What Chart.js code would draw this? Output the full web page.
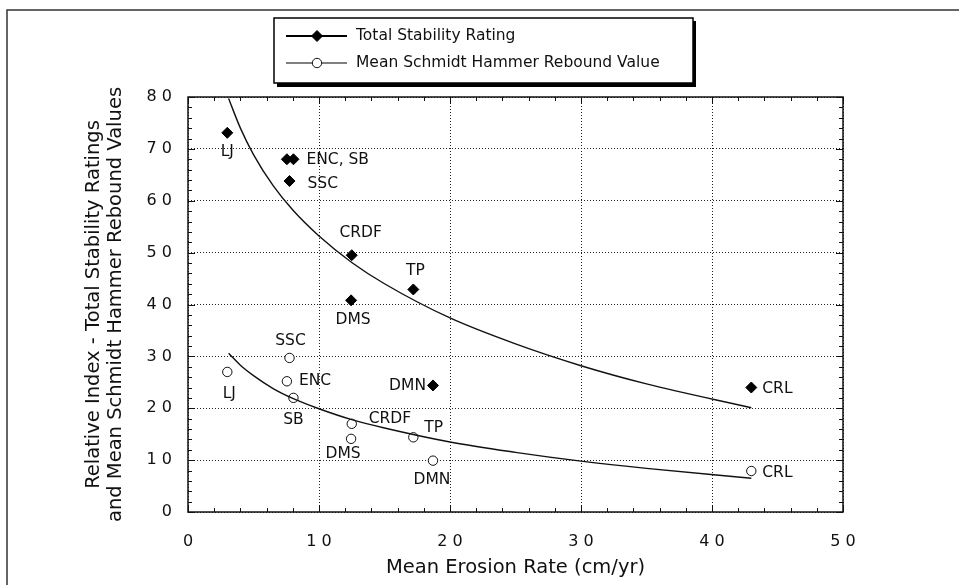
<!DOCTYPE html>
<html>
<head>
<meta charset="utf-8">
<script src="https://cdn.jsdelivr.net/npm/chart.js@4"></script>
<style>
  body { margin: 0; background: #fff; }
  canvas { display: block; }
</style>
</head>
<body>
<canvas id="chart" width="959" height="585"></canvas>
<script>
// ---- data ----
const sites = ["LJ", "ENC", "SB", "SSC", "CRDF", "DMS", "TP", "DMN", "CRL"];
const erosionRate = [3.0, 7.55, 8.05, 7.75, 12.5, 12.45, 17.2, 18.7, 43.0];
const stabilityRating = [73.1, 68.0, 68.0, 63.8, 49.5, 40.8, 42.9, 24.4, 24.0];
const reboundValue = [27.0, 25.2, 22.0, 29.7, 17.0, 14.1, 14.4, 9.9, 7.9];

// points
const curveX = [3.1, 4, 5, 6.5, 8, 10, 12.5, 15, 20, 25, 30, 35, 43];
const stabilityCurve = [79.7, 74.0, 68.9, 62.9, 58.2, 53.2, 48.1, 44.0, 37.4, 32.4, 28.2, 24.7, 20.1];
const reboundCurve = [30.6, 28.3, 26.3, 23.8, 21.9, 19.9, 17.8, 16.2, 13.5, 11.5, 9.8, 8.4, 6.5];

const xTicks = [0, 10, 20, 30, 40, 50];
const yTicks = [0, 10, 20, 30, 40, 50, 60, 70, 80];

// label text per point (ENC and SB share one label on the diamonds)
const stabilityLabels = ["LJ", "", "ENC, SB", "SSC", "CRDF", "DMS", "TP", "DMN", "CRL"];
const reboundLabels = sites;

// label placement: [align, dx, dy] relative to the point
const stabilityLabelPos = [
  ["center", 0, 19], ["left", 0, 0], ["left", 13, 1], ["left", 18, 3], ["center", 9, -22],
  ["center", 2, 20], ["center", 2, -18], ["right", -7, 1], ["left", 11, 1]
];
const reboundLabelPos = [
  ["center", 2, 22], ["left", 12, 0], ["center", 0, 22], ["center", 1, -17], ["left", 17, -5],
  ["center", -8, 15], ["left", 11, -9], ["center", -1, 19], ["left", 11, 2]
];

const FONT = "'DejaVu Sans', sans-serif";
const INK = "#111";

const spaced = v => String(v).split("").join(" ");

// frame, inward ticks, page border
const framePlugin = {
  id: "frame",
  beforeDraw(chart) {
    const ctx = chart.ctx;
    ctx.save();
    ctx.fillStyle = "#fff";
    ctx.fillRect(0, 0, chart.width, chart.height);
    ctx.strokeStyle = "#333";
    ctx.lineWidth = 1.5;
    ctx.beginPath();
    ctx.moveTo(7, chart.height);
    ctx.lineTo(7, 10);
    ctx.lineTo(chart.width, 10);
    ctx.stroke();
    ctx.restore();
  },
  afterDatasetsDraw(chart) {
    const {ctx, chartArea: a, scales: {x, y}} = chart;
    ctx.save();
    ctx.strokeStyle = INK;
    ctx.lineWidth = 1.5;
    ctx.strokeRect(a.left, a.top, a.right - a.left, a.bottom - a.top);
    ctx.lineWidth = 1;
    ctx.beginPath();
    for (let v = x.min; v <= x.max; v += 2) {
      const px = Math.round(x.getPixelForValue(v)) + 0.5;
      const len = v % 10 === 0 ? 7 : 4;
      ctx.moveTo(px, a.bottom); ctx.lineTo(px, a.bottom - len);
      ctx.moveTo(px, a.top); ctx.lineTo(px, a.top + len);
    }
    for (let v = y.min; v <= y.max; v += 2) {
      const py = Math.round(y.getPixelForValue(v)) + 0.5;
      const len = v % 10 === 0 ? 7 : 4;
      ctx.moveTo(a.left, py); ctx.lineTo(a.left + len, py);
      ctx.moveTo(a.right, py); ctx.lineTo(a.right - len, py);
    }
    ctx.stroke();
    ctx.restore();
  }
};

// site names next to the markers
const labelPlugin = {
  id: "siteLabels",
  afterDatasetsDraw(chart) {
    const ctx = chart.ctx;
    ctx.save();
    ctx.font = "15.5px " + FONT;
    ctx.fillStyle = INK;
    ctx.textBaseline = "middle";
    [[2, stabilityLabels, stabilityLabelPos], [3, reboundLabels, reboundLabelPos]].forEach(([di, texts, pos]) => {
      chart.getDatasetMeta(di).data.forEach((pt, i) => {
        if (!texts[i]) return;
        const [align, dx, dy] = pos[i];
        ctx.textAlign = align;
        ctx.fillText(texts[i], pt.x + dx, pt.y + dy);
      });
    });
    ctx.restore();
  }
};

// boxed legend with a drop shadow
const legendPlugin = {
  id: "boxLegend",
  afterDraw(chart) {
    const ctx = chart.ctx;
    const bx = 274, by = 18, bw = 419, bh = 65;
    ctx.save();
    ctx.fillStyle = "#000";
    ctx.fillRect(bx + 3, by + bh, bw, 4);
    ctx.fillRect(bx + bw, by + 3, 3, bh + 1);
    ctx.fillStyle = "#fff";
    ctx.fillRect(bx, by, bw, bh);
    ctx.strokeStyle = "#000";
    ctx.lineWidth = 1.5;
    ctx.strokeRect(bx, by, bw, bh);

    const rows = [
      {y: 36, ds: chart.data.datasets[2], lw: 2},
      {y: 63, ds: chart.data.datasets[3], lw: 1}
    ];
    ctx.font = "15.5px " + FONT;
    ctx.textBaseline = "middle";
    ctx.textAlign = "left";
    rows.forEach(r => {
      ctx.strokeStyle = "#000";
      ctx.lineWidth = r.lw;
      ctx.beginPath();
      ctx.moveTo(286, r.y); ctx.lineTo(347, r.y);
      ctx.stroke();
      ctx.fillStyle = r.ds.backgroundColor;
      ctx.strokeStyle = r.ds.borderColor;
      ctx.lineWidth = r.ds.borderWidth;
      Chart.helpers.drawPoint(ctx, {
        pointStyle: r.ds.pointStyle, radius: r.ds.pointRadius,
        rotation: 0, borderWidth: r.ds.borderWidth
      }, 317, r.y);
      ctx.fillStyle = INK;
      ctx.fillText(r.ds.label, 356, r.y);
    });
    ctx.restore();
  }
};

const toXY = (xs, ys) => xs.map((v, i) => ({x: v, y: ys[i]}));

new Chart(document.getElementById("chart"), {
  type: "scatter",
  data: {
    datasets: [
      {
        type: "line", label: "stability fit",
        data: toXY(curveX, stabilityCurve),
        borderColor: "#111", borderWidth: 1.4, pointRadius: 0,
        cubicInterpolationMode: "monotone", fill: false
      },
      {
        type: "line", label: "rebound fit",
        data: toXY(curveX, reboundCurve),
        borderColor: "#111", borderWidth: 1.4, pointRadius: 0,
        cubicInterpolationMode: "monotone", fill: false
      },
      {
        label: "Total Stability Rating",
        data: toXY(erosionRate, stabilityRating),
        pointStyle: "rectRot", pointRadius: 5.5,
        backgroundColor: "#000", borderColor: "#000", borderWidth: 1
      },
      {
        label: "Mean Schmidt Hammer Rebound Value",
        data: toXY(erosionRate, reboundValue),
        pointStyle: "circle", pointRadius: 4.7,
        backgroundColor: "#fff", borderColor: "#111", borderWidth: 1
      }
    ]
  },
  options: {
    responsive: false,
    animation: false,
    devicePixelRatio: 1,
    layout: {padding: {left: 83, right: 116, top: 97, bottom: 0}},
    plugins: {legend: {display: false}, tooltip: {enabled: false}},
    scales: {
      x: {
        type: "linear", min: 0, max: 50,
        afterFit: s => { s.height = 73; },
        afterBuildTicks: s => { s.ticks = xTicks.map(v => ({value: v})); },
        grid: {color: "#222", lineWidth: 1, drawTicks: false},
        border: {display: false, dash: [1, 2]},
        ticks: {
          padding: 20, color: INK, font: {family: FONT, size: 16},
          callback: spaced
        },
        title: {
          display: true, text: "Mean Erosion Rate (cm/yr)", color: INK,
          font: {family: FONT, size: 19.5, lineHeight: 1.13},
          padding: {top: 0, bottom: 6}
        }
      },
      y: {
        type: "linear", min: 0, max: 80,
        afterFit: s => { s.width = 105; },
        afterBuildTicks: s => { s.ticks = yTicks.map(v => ({value: v})); },
        grid: {color: "#222", lineWidth: 1, drawTicks: false},
        border: {display: false, dash: [1, 2]},
        ticks: {
          padding: 16, color: INK, font: {family: FONT, size: 16},
          callback: spaced
        },
        title: {
          display: true,
          text: ["Relative Index - Total Stability Ratings", "and Mean Schmidt Hammer Rebound Values"],
          color: INK,
          font: {family: FONT, size: 19.5, lineHeight: 1.13},
          padding: {top: 0, bottom: 0}
        }
      }
    }
  },
  plugins: [framePlugin, labelPlugin, legendPlugin]
});
</script>
</body>
</html>
